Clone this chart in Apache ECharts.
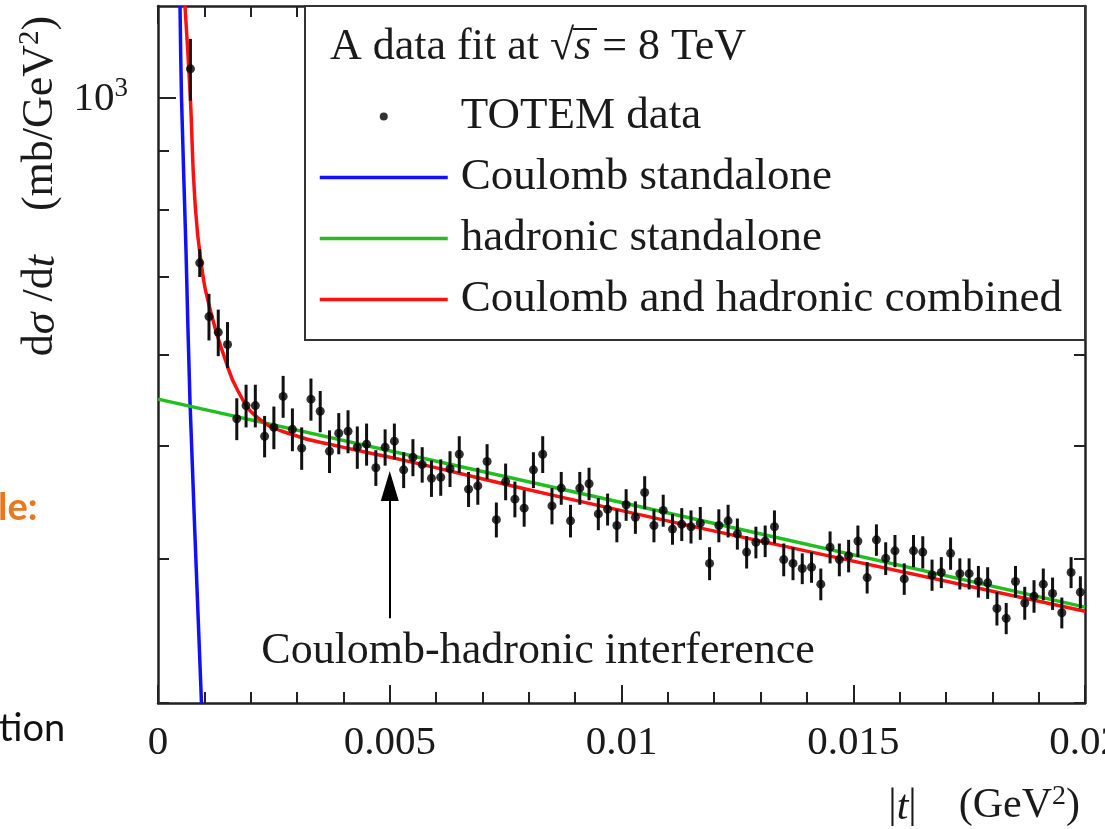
<!DOCTYPE html>
<html><head><meta charset="utf-8">
<script src="https://cdn.jsdelivr.net/npm/echarts@6/dist/echarts.min.js"></script>
<style>html,body{margin:0;padding:0;background:#fff}#c{width:1105px;height:829px}</style>
</head><body><div id="c"></div>
<script>
// ---- data ----
const T = [0.0007,0.0009,0.0011,0.0013,0.0015,0.0017,0.0019,0.0021,0.0023,0.0025,
0.0027,0.0029,0.0031,0.0033,0.0035,0.0037,0.0039,0.0041,0.0043,0.0045,
0.0047,0.0049,0.0051,0.0053,0.0055,0.0057,0.0059,0.0061,0.0063,0.0065,
0.0067,0.0069,0.0071,0.0073,0.0075,0.0077,0.0079,0.0081,0.0083,0.0085,
0.0087,0.0089,0.0091,0.0093,0.0095,0.0097,0.0099,0.0101,0.0103,0.0105,
0.0107,0.0109,0.0111,0.0113,0.0115,0.0117,0.0119,0.0121,0.0123,0.0125,
0.0127,0.0129,0.0131,0.0133,0.0135,0.0137,0.0139,0.0141,0.0143,0.0145,
0.0147,0.0149,0.0151,0.0153,0.0155,0.0157,0.0159,0.0161,0.0163,0.0165,
0.0167,0.0169,0.0171,0.0173,0.0175,0.0177,0.0179,0.0181,0.0183,0.0185,
0.0187,0.0189,0.0191,0.0193,0.0195,0.0197,0.0199];
const V = [1059,720,647,627,612,528,542,542,510,519,
552,517,498,549,536,495,513,515,499,502,
479,499,505,477,489,482,469,470,478,492,
459,462,485,432,466,450,442,477,492,444,
460,431,460,464,437,441,427,445,434,456,
427,440,424,428,426,429,396,427,431,420,
405,413,414,426,399,396,392,393,380,409,
399,402,414,385,415,400,406,384,406,405,
387,389,404,388,388,382,381,362,355,382,
366,371,380,373,359,389,374];
const E = [65,20,30,29,28,22,23,23,21,22,
23,22,21,23,22,21,21,22,21,21,
17,18,18,17,18,17,17,17,17,18,
16,17,17,15,17,16,16,17,18,16,
15,14,15,15,14,14,14,14,14,15,
14,14,13,14,14,14,13,14,14,13,
13,13,13,14,13,13,12,12,12,13,
13,13,13,12,13,13,13,12,13,13,
12,12,13,12,12,12,12,12,11,12,
12,12,12,12,11,12,12];
const coulombT = [0.000475,0.000507,0.000604,0.00069,0.000938];
const coulombV = [1200,1000,738,547,300];
const hadronicT = [0,0.01,0.02];
const hadronicV = [549,447,363];
const combinedT = [0.000582,0.000697,0.000792,0.000934,0.001147,0.001439,0.001726,0.002157,0.002875,0.003883,0.00522,0.008672,0.01385,0.02];
const combinedV = [1200,1001,820,718,651,596,558,529,512,500,487,452,407,360];
const yMinorTicks = [300,400,500,600,700,800,900];
const yMajorTicks = [1000];
const arrowT = [0.005,0.005];
const arrowV = [355,462];

const SERIF = '"Liberation Serif", "DejaVu Serif", serif';
const INK = '#1a1a1a';
const zip = (a,b)=>a.map((x,i)=>[x,b[i]]);

const chart = echarts.init(document.getElementById('c'), null, {renderer:'canvas'});
const frame = {show:true, lineStyle:{color:'#222', width:2.5}};
const yBase = {type:'log', min:300, max:1200, splitLine:{show:false}};
const noSym = {color:'rgba(0,0,0,0)', borderWidth:0, opacity:0};

chart.setOption({
  animation:false,
  backgroundColor:'#fff',
  grid:{left:158, right:20, top:6, bottom:126, containLabel:false, outerBoundsMode:'none'},
  xAxis:[
    {type:'value', min:0, max:0.02, interval:0.005, position:'bottom',
     axisLine:frame,
     axisTick:{inside:true, length:18, lineStyle:{color:'#222', width:2}},
     minorTick:{show:true, splitNumber:5, length:11, lineStyle:{color:'#222', width:2}},
     splitLine:{show:false}, minorSplitLine:{show:false},
     axisLabel:{fontFamily:SERIF, fontSize:41, color:INK, margin:20, hideOverlap:false,
       showMinLabel:true, showMaxLabel:true,
       formatter:v=> v===0 ? '0' : String(+v.toFixed(3))}},
    {type:'value', min:0, max:0.02, interval:0.005, position:'top',
     axisLine:frame,
     axisTick:{inside:true, length:18, lineStyle:{color:'#222', width:2}},
     minorTick:{show:true, splitNumber:5, length:11, lineStyle:{color:'#222', width:2}},
     splitLine:{show:false}, axisLabel:{show:false}}
  ],
  yAxis:[
    Object.assign({}, yBase, {position:'left', axisLine:frame,
      axisTick:{inside:true, length:11, customValues:yMinorTicks, lineStyle:{color:'#222', width:2}},
      axisLabel:{customValues:yMajorTicks, margin:30, formatter:()=>'{a|10}{s|3}',
        rich:{a:{fontFamily:SERIF, fontSize:41, color:INK, lineHeight:44, verticalAlign:'bottom'},
              s:{fontFamily:SERIF, fontSize:27, color:INK, lineHeight:44, verticalAlign:'top'}}}}),
    Object.assign({}, yBase, {position:'left', axisLine:{show:false},
      axisTick:{inside:true, length:18, customValues:yMajorTicks, lineStyle:{color:'#222', width:2}},
      axisLabel:{show:false}}),
    Object.assign({}, yBase, {position:'right', axisLine:frame,
      axisTick:{inside:true, length:11, customValues:yMinorTicks.concat(yMajorTicks), lineStyle:{color:'#222', width:2}},
      axisLabel:{show:false}})
  ],
  legend:{
    orient:'vertical', left:313, top:89, itemWidth:128, itemHeight:8, itemGap:16,
    selectedMode:false, z:5,
    textStyle:{fontFamily:SERIF, fontSize:45, color:INK, lineHeight:42, padding:[0,0,0,8]},
    data:[{name:'TOTEM data', icon:'circle'},
      {name:'Coulomb standalone', itemStyle:noSym, lineStyle:{width:3.5}},
      {name:'hadronic standalone', itemStyle:noSym, lineStyle:{width:3.5}},
      {name:'Coulomb and hadronic combined', itemStyle:noSym, lineStyle:{width:3.5}}]
  },
  series:[
    {name:'Coulomb standalone', type:'line', data:zip(coulombT, coulombV), smooth:0.3,
     showSymbol:false, symbol:'none', color:'#1010ff', lineStyle:{color:'#1010ff', width:3.5}, z:2},
    {name:'hadronic standalone', type:'line', data:zip(hadronicT, hadronicV),
     showSymbol:false, symbol:'none', color:'#1fbf1f', lineStyle:{color:'#1fbf1f', width:3.5}, z:2,
     markLine:{silent:true, symbol:['none','triangle'], symbolSize:[18,30],
       lineStyle:{color:'#000', width:2, type:'solid'}, itemStyle:{color:'#000'}, label:{show:false},
       emphasis:{disabled:true}, animation:false,
       data:[[{coord:[arrowT[0], arrowV[0]]},{coord:[arrowT[1], arrowV[1]]}]]}},
    {name:'Coulomb and hadronic combined', type:'line', data:zip(combinedT, combinedV), smooth:0.5,
     showSymbol:false, symbol:'none', color:'#ff1010', lineStyle:{color:'#ff1010', width:3.5}, z:2},
    {name:'errors', type:'custom', z:3, silent:true,
     data:T.map((t,i)=>[t, V[i]-E[i], V[i]+E[i]]),
     renderItem:(params, api)=>{
       const a = api.coord([api.value(0), api.value(1)]);
       const b = api.coord([api.value(0), api.value(2)]);
       return {type:'line', shape:{x1:a[0], y1:a[1], x2:b[0], y2:b[1]}, style:{stroke:'#111', lineWidth:3}};
     }},
    {name:'TOTEM data', type:'scatter', data:zip(T, V), symbol:'circle', symbolSize:9,
     color:'#000', itemStyle:{color:'#000'}, z:4}
  ],
  graphic:[
    {type:'rect', z:3, shape:{x:305, y:6, width:780, height:334},
     style:{fill:'#fff', stroke:'#333', lineWidth:2}},
    {type:'text', z:6, x:330, y:47,
     style:{text:'A data fit at \u221A{i|s} = 8 TeV', fontFamily:SERIF, fontSize:44, fill:INK,
       verticalAlign:'middle', align:'left',
       rich:{i:{fontFamily:SERIF, fontSize:44, fontStyle:'italic', fill:INK}}}},
    {type:'line', z:6, shape:{x1:573, y1:29, x2:597, y2:29}, style:{stroke:INK, lineWidth:2}},
    {type:'text', z:6, x:538, y:651,
     style:{text:'Coulomb-hadronic interference', fontFamily:SERIF, fontSize:44, fill:INK,
       align:'center', verticalAlign:'middle'}},
    {type:'text', z:6, x:1080, y:806,
     style:{text:'|{i|t}|    (GeV{s|2})', fontFamily:SERIF, fontSize:42, fill:INK,
       align:'right', verticalAlign:'middle',
       rich:{i:{fontFamily:SERIF, fontSize:42, fontStyle:'italic', fill:INK, lineHeight:46, verticalAlign:'bottom'},
             s:{fontFamily:SERIF, fontSize:28, fill:INK, lineHeight:46, verticalAlign:'top'}}}},
    {type:'text', z:6, x:40, y:186, rotation:Math.PI/2,
     style:{text:'d{i|\u03C3} /d{i|t}    (mb/GeV{s|2})', fontFamily:SERIF, fontSize:44, fill:INK,
       align:'center', verticalAlign:'middle',
       rich:{i:{fontFamily:SERIF, fontSize:44, fontStyle:'italic', fill:INK, lineHeight:48, verticalAlign:'bottom'},
             s:{fontFamily:SERIF, fontSize:29, fill:INK, lineHeight:48, verticalAlign:'top'}}}},
    {type:'text', z:6, x:-2, y:508,
     style:{text:'le:', fontFamily:'Lato, "Open Sans", sans-serif', fontWeight:'bold', fontSize:38, fill:'#E8781F',
       align:'left', verticalAlign:'middle'}},
    {type:'text', z:6, x:-1, y:729,
     style:{text:'tion', fontFamily:'Lato, "Open Sans", sans-serif', fontSize:38, fill:'#111',
       align:'left', verticalAlign:'middle'}},
    {type:'text', z:6, x:-6, y:206,
     style:{text:':', fontFamily:'Lato, "Open Sans", sans-serif', fontWeight:'bold', fontSize:28, fill:'#2E5AA8',
       align:'left', verticalAlign:'middle'}}
  ]
});
</script>
</body></html>
